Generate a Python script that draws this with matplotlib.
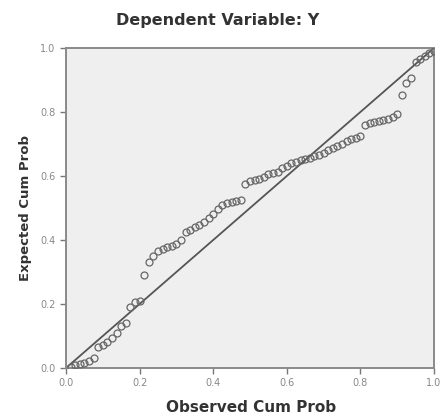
import matplotlib
matplotlib.use("Agg")
import matplotlib.pyplot as plt

# Observed cumulative probability (x) and expected cumulative probability (y)
observed = [0.0125, 0.025, 0.0375, 0.05, 0.0625, 0.075, 0.0875, 0.1, 0.1125, 0.125,
            0.1375, 0.15, 0.1625, 0.175, 0.1875, 0.2, 0.2125, 0.225, 0.2375, 0.25,
            0.2625, 0.275, 0.2875, 0.3, 0.3125, 0.325, 0.3375, 0.35, 0.3625, 0.375,
            0.3875, 0.4, 0.4125, 0.425, 0.4375, 0.45, 0.4625, 0.475, 0.4875, 0.5,
            0.5125, 0.525, 0.5375, 0.55, 0.5625, 0.575, 0.5875, 0.6, 0.6125, 0.625,
            0.6375, 0.65, 0.6625, 0.675, 0.6875, 0.7, 0.7125, 0.725, 0.7375, 0.75,
            0.7625, 0.775, 0.7875, 0.8, 0.8125, 0.825, 0.8375, 0.85, 0.8625, 0.875,
            0.8875, 0.9, 0.9125, 0.925, 0.9375, 0.95, 0.9625, 0.975, 0.9875, 1.0]
expected = [0.004, 0.008, 0.012, 0.017, 0.022, 0.03, 0.065, 0.072, 0.08, 0.095,
            0.11, 0.13, 0.14, 0.19, 0.205, 0.21, 0.29, 0.33, 0.35, 0.365,
            0.372, 0.378, 0.382, 0.388, 0.40, 0.425, 0.432, 0.44, 0.447, 0.455,
            0.468, 0.482, 0.497, 0.51, 0.516, 0.52, 0.522, 0.525, 0.575, 0.585,
            0.588, 0.591, 0.597, 0.607, 0.61, 0.614, 0.624, 0.632, 0.64, 0.645,
            0.649, 0.653, 0.657, 0.661, 0.666, 0.672, 0.68, 0.687, 0.694, 0.70,
            0.708, 0.715, 0.72, 0.725, 0.76, 0.765, 0.77, 0.772, 0.775, 0.778,
            0.785, 0.795, 0.853, 0.89, 0.906, 0.955, 0.965, 0.975, 0.985, 0.99]
ref_line = [0.0, 1.0]
ticks = [0.0, 0.2, 0.4, 0.6, 0.8, 1.0]
tick_labels = ["0.0", "0.2", "0.4", "0.6", "0.8", "1.0"]

fig = plt.figure(figsize=(4.4, 4.18), dpi=100)
ax = fig.add_axes([66/440, 50/418, 368/440, 320/418])
ax.set_facecolor("#efefef")

ax.plot(ref_line, ref_line, color="#555555", linewidth=1.3, zorder=2)
ax.plot(observed, expected, linestyle="none", marker="o", markersize=5,
        markerfacecolor="none", markeredgecolor="#666666", markeredgewidth=0.9, zorder=3)

ax.set_xlim(0, 1)
ax.set_ylim(0, 1)
ax.set_xticks(ticks)
ax.set_xticklabels(tick_labels)
ax.set_yticks(ticks)
ax.set_yticklabels(tick_labels)
ax.tick_params(axis="both", direction="out", length=4, width=1, colors="#777777",
               labelsize=7, labelcolor="#888888")
for s in ax.spines.values():
    s.set_color("#8a8a8a")
    s.set_linewidth(1.4)

fig.text(0.495, 0.952, "Dependent Variable: Y", ha="center", va="center",
         fontsize=11.5, fontweight="bold", color="#333333")
fig.text(0.571, 0.024, "Observed Cum Prob", ha="center", va="center",
         fontsize=11, fontweight="bold", color="#333333")
fig.text(0.057, 0.502, "Expected Cum Prob", ha="center", va="center",
         rotation=90, fontsize=9.5, fontweight="bold", color="#333333")

fig.savefig("out.png", dpi=100, facecolor="white")
